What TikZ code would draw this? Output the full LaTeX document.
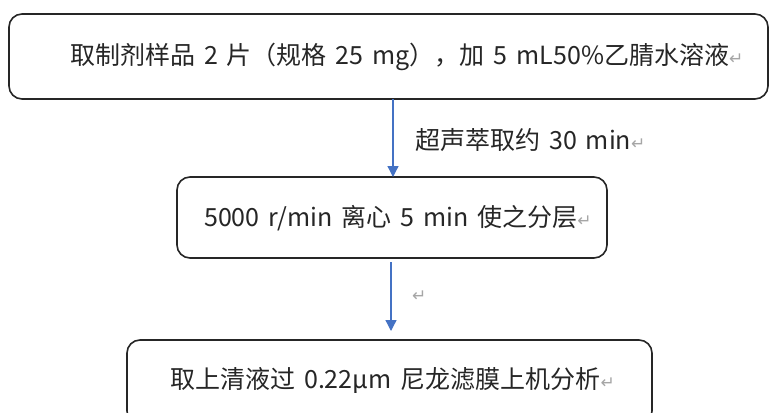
\documentclass[tikz,border=0pt]{standalone}
\usepackage{fontspec}
\setmainfont{Noto Sans CJK SC}[WordSpace={1.6}]
\newfontfamily\markfont{DejaVu Sans}
\usetikzlibrary{arrows.meta}
\tikzset{
  stepbox/.style={draw=black!85, line width=1.6pt, rounded corners=13pt, inner sep=0pt},
  steptext/.style={anchor=west, inner sep=0pt, font=\fontsize{25}{28}\selectfont, text=black!85},
  flow/.style={draw={rgb,255:red,68;green,114;blue,196}, line width=1.3pt, -{Triangle[length=11pt,width=11pt]}},
}
\newcommand{\pmark}{{\markfont\fontsize{17}{17}\selectfont\color{black!35}↵}}
\begin{document}
\begin{tikzpicture}[x=1pt,y=-1pt]
\useasboundingbox (0,0) rectangle (770,412);
\fill[white] (0,0) rectangle (770,412);
\node[stepbox, minimum width=759pt, minimum height=85pt] (b1) at (388.5,56.5) {};
\node[stepbox, minimum width=430pt, minimum height=81pt] (b2) at (392,217.5) {};
\node[stepbox, minimum width=525pt, minimum height=84pt] (b3) at (389.5,382) {};
\node[steptext] (t1) at (70,57) {取制剂样品 2 片（规格 25 mg），加 5 mL50\%乙腈水溶液\pmark};
\node[steptext] (t2) at (204,218) {5000 r/min 离心 5 min 使之分层\pmark};
\node[steptext] (t3) at (170,380) {取上清液过 0.22μm 尼龙滤膜上机分析\pmark};
\node[steptext] (l1) at (415,140) {超声萃取约 30 min\pmark};
\node[anchor=west, inner sep=0pt] (l2) at (412,296) {\pmark};
\coordinate (a1s) at (393,99);
\coordinate (a1e) at (393,177);
\coordinate (a2s) at (391,262);
\coordinate (a2e) at (391,331);
\draw[flow] (a1s) -- (a1e);
\draw[flow] (a2s) -- (a2e);
\end{tikzpicture}
\end{document}
